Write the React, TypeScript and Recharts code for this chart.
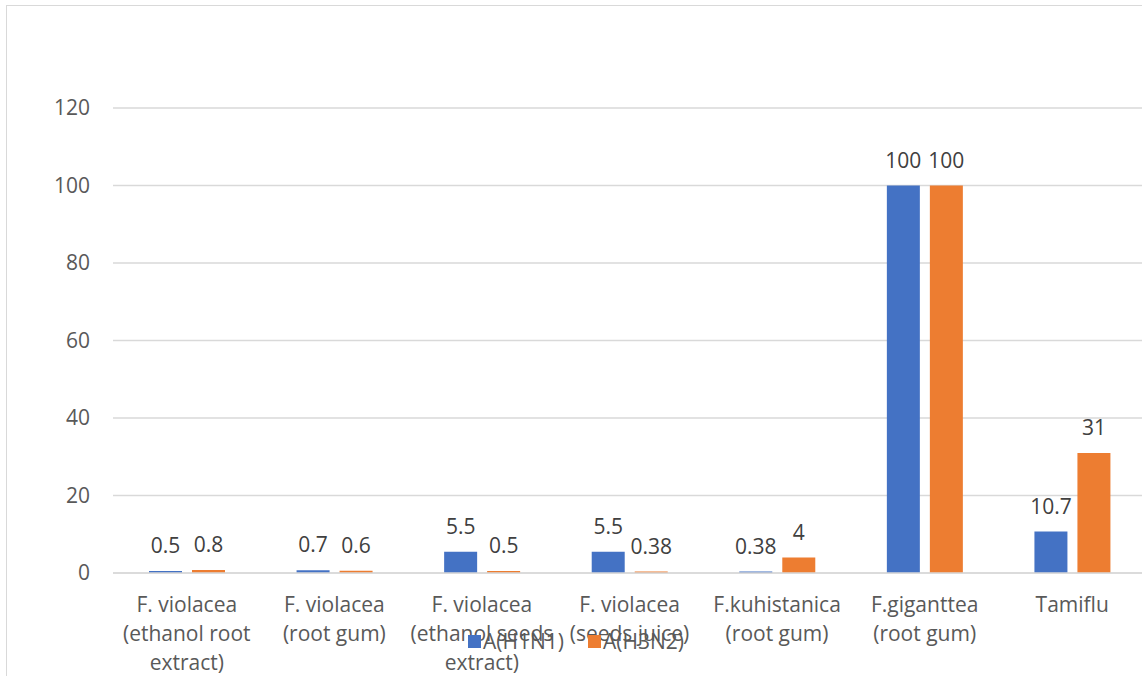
import React from 'react';
import { BarChart, Bar, XAxis, YAxis, CartesianGrid, LabelList, Legend } from 'recharts';

const categories = [
  'F. violacea\n(ethanol root\nextract)',
  'F. violacea\n(root gum)',
  'F. violacea\n(ethanol seeds\nextract)',
  'F. violacea\n(seeds juice)',
  'F.kuhistanica\n(root gum)',
  'F.giganttea\n(root gum)',
  'Tamiflu',
];
const h1n1 = [0.5, 0.7, 5.5, 5.5, 0.38, 100, 10.7];
const h3n2 = [0.8, 0.6, 0.5, 0.38, 4, 100, 31];
const yTicks = [0, 20, 40, 60, 80, 100, 120];
const seriesNames = ['A(H1N1)', 'A(H3N2)'];
const colors = ['#4472C4', '#ED7D31'];

const data = categories.map((c, i) => ({ name: c, h1n1: h1n1[i], h3n2: h3n2[i] }));

const FONT = '"Open Sans", sans-serif';

const CategoryTick = (props: any) => {
  const { x, y, payload } = props;
  const lines = String(payload.value).split('\n');
  return (
    <text x={x} y={y} textAnchor="middle" fill="#595959" fontSize={21} fontFamily={FONT}>
      {lines.map((l, i) => (
        <tspan key={i} x={x} y={y + 39 + i * 29}>{l}</tspan>
      ))}
    </text>
  );
};

const LegendContent = (props: any) => {
  const { payload } = props;
  return (
    <div style={{ display: 'flex', alignItems: 'center', fontFamily: FONT, fontSize: 21, color: '#595959', whiteSpace: 'nowrap' }}>
      {(payload || []).map((p: any, i: number) => (
        <div key={i} style={{ display: 'flex', alignItems: 'center', marginRight: 24 }}>
          <span style={{ display: 'inline-block', width: 13, height: 13, background: p.color, marginRight: 2 }} />
          <span>{p.value}</span>
        </div>
      ))}
    </div>
  );
};

export default function App() {
  return (
    <div style={{ position: 'absolute', left: 0, top: 0, width: 1142, height: 676, overflow: 'hidden', background: '#fff' }}>
      <div style={{ position: 'absolute', left: 6, top: 5, width: 1300, height: 800, border: '1px solid #d9d9d9', boxSizing: 'border-box' }} />
      <div style={{ position: 'absolute', left: 0, top: 0 }}>
        <BarChart
          width={1146}
          height={676}
          data={data}
          margin={{ top: 108, right: 0, bottom: 43, left: 0 }}
          barGap={10}
          barSize={33}
        >
          <CartesianGrid vertical={false} stroke="#d9d9d9" strokeWidth={1.5} />
          <XAxis
            dataKey="name"
            height={60}
            tickLine={false}
            axisLine={{ stroke: '#d9d9d9', strokeWidth: 1.5 }}
            tickSize={0}
            tickMargin={0}
            interval={0}
            tick={<CategoryTick />}
          />
          <YAxis
            width={113}
            domain={[0, 120]}
            ticks={yTicks}
            axisLine={false}
            tickLine={false}
            tickSize={0}
            tickMargin={23}
            tick={{ fill: '#595959', fontSize: 21, fontFamily: FONT }}
          />
          <Legend
            layout="horizontal"
            verticalAlign="middle"
            align="center"
            content={<LegendContent />}
            wrapperStyle={{ top: 627, left: 468, width: 300, height: 30 }}
          />
          <Bar dataKey="h1n1" name={seriesNames[0]} fill={colors[0]} isAnimationActive={false}>
            <LabelList dataKey="h1n1" position="top" offset={18} fill="#404040" fontSize={21} fontFamily={FONT} />
          </Bar>
          <Bar dataKey="h3n2" name={seriesNames[1]} fill={colors[1]} isAnimationActive={false}>
            <LabelList dataKey="h3n2" position="top" offset={18} fill="#404040" fontSize={21} fontFamily={FONT} />
          </Bar>
        </BarChart>
      </div>
    </div>
  );
}
